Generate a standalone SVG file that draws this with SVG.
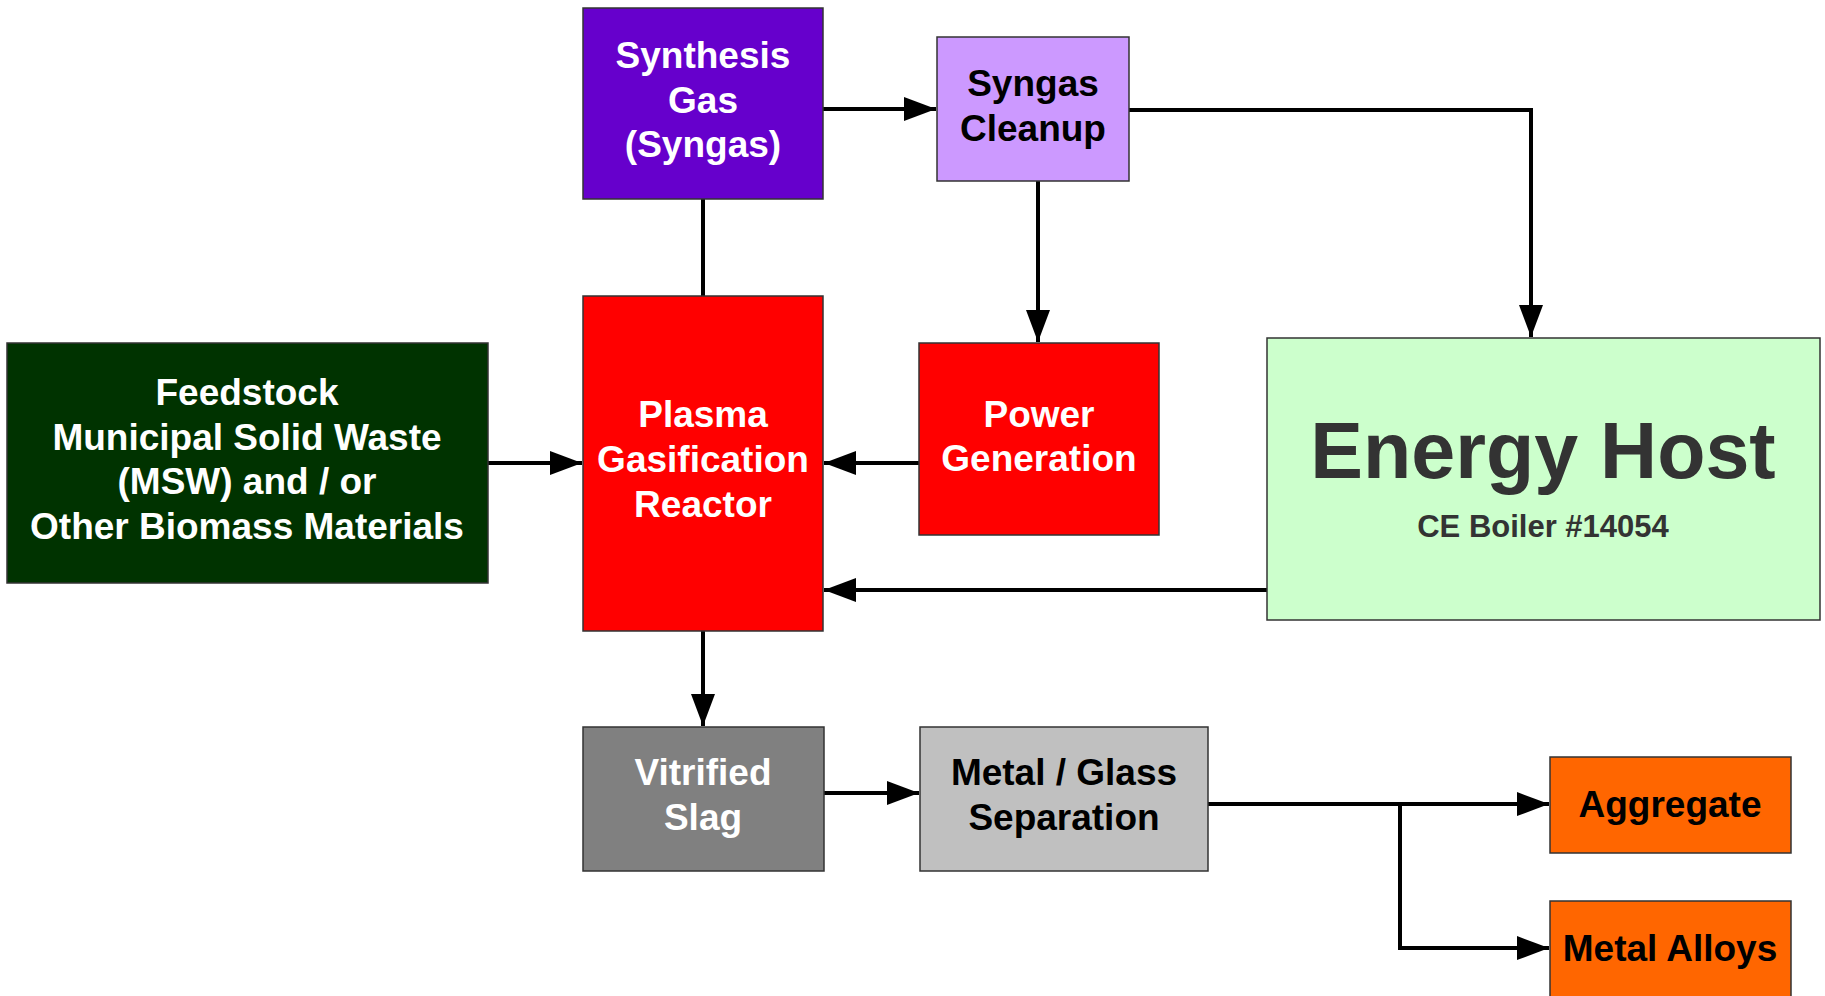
<svg xmlns="http://www.w3.org/2000/svg" width="1825" height="996" viewBox="0 0 1825 996">
<defs>
<marker id="ah" markerWidth="8" markerHeight="6" refX="8" refY="3" orient="auto" markerUnits="strokeWidth">
<path d="M0,0 L8,3 L0,6 z" fill="#000"/>
</marker>
<style>
.box{stroke:#333;stroke-width:1.5}
.t{font-family:"Liberation Sans",Arial,sans-serif;font-weight:bold;font-size:37px;text-anchor:middle}
.w{fill:#fff}
.k{fill:#000}
.c{fill:none;stroke:#000;stroke-width:4}
</style>
</defs>
<rect width="1825" height="996" fill="#fff"/>
<g id="connectors">
<path class="c" d="M823,109 H936" marker-end="url(#ah)"/>
<path class="c" d="M703,199 V296"/>
<path class="c" d="M1129,110 H1531 V337" marker-end="url(#ah)"/>
<path class="c" d="M1038,181 V342" marker-end="url(#ah)"/>
<path class="c" d="M488,463 H582" marker-end="url(#ah)"/>
<path class="c" d="M919,463 H824" marker-end="url(#ah)"/>
<path class="c" d="M1267,590 H824" marker-end="url(#ah)"/>
<path class="c" d="M703,631 V726" marker-end="url(#ah)"/>
<path class="c" d="M824,793 H919" marker-end="url(#ah)"/>
<path class="c" d="M1208,804 H1549" marker-end="url(#ah)"/>
<path class="c" d="M1400,804 V948 H1549" marker-end="url(#ah)"/>
</g>
<g id="synthesis-gas">
<rect class="box" x="583" y="8" width="240" height="191" fill="#6600CC"/>
<text class="t w" x="703" y="68">Synthesis</text>
<text class="t w" x="703" y="113">Gas</text>
<text class="t w" x="703" y="157">(Syngas)</text>
</g>
<g id="syngas-cleanup">
<rect class="box" x="937" y="37" width="192" height="144" fill="#CC99FF"/>
<text class="t k" x="1033" y="96">Syngas</text>
<text class="t k" x="1033" y="141">Cleanup</text>
</g>
<g id="feedstock">
<rect class="box" x="7" y="343" width="481" height="240" fill="#003300"/>
<text class="t w" x="247" y="405">Feedstock</text>
<text class="t w" x="247" y="450">Municipal Solid Waste</text>
<text class="t w" x="247" y="494">(MSW) and / or</text>
<text class="t w" x="247" y="539">Other Biomass Materials</text>
</g>
<g id="plasma-reactor">
<rect class="box" x="583" y="296" width="240" height="335" fill="#FF0000"/>
<text class="t w" x="703" y="427">Plasma</text>
<text class="t w" x="703" y="472">Gasification</text>
<text class="t w" x="703" y="517">Reactor</text>
</g>
<g id="power-generation">
<rect class="box" x="919" y="343" width="240" height="192" fill="#FF0000"/>
<text class="t w" x="1039" y="427">Power</text>
<text class="t w" x="1039" y="471">Generation</text>
</g>
<g id="energy-host">
<rect class="box" x="1267" y="338" width="553" height="282" fill="#CCFFCC"/>
<text x="1543" y="478" font-family="'Liberation Sans',Arial,sans-serif" font-weight="bold" font-size="79" fill="#333" text-anchor="middle">Energy Host</text>
<text x="1543" y="537" font-family="'Liberation Sans',Arial,sans-serif" font-weight="bold" font-size="31" fill="#333" text-anchor="middle">CE Boiler #14054</text>
</g>
<g id="vitrified-slag">
<rect class="box" x="583" y="727" width="241" height="144" fill="#808080"/>
<text class="t w" x="703" y="785">Vitrified</text>
<text class="t w" x="703" y="830">Slag</text>
</g>
<g id="metal-glass-separation">
<rect class="box" x="920" y="727" width="288" height="144" fill="#C0C0C0"/>
<text class="t k" x="1064" y="785">Metal / Glass</text>
<text class="t k" x="1064" y="830">Separation</text>
</g>
<g id="aggregate">
<rect class="box" x="1550" y="757" width="241" height="96" fill="#FF6600"/>
<text class="t k" x="1670" y="817">Aggregate</text>
</g>
<g id="metal-alloys">
<rect class="box" x="1550" y="901" width="241" height="96" fill="#FF6600"/>
<text class="t k" x="1670" y="961">Metal Alloys</text>
</g>
</svg>
